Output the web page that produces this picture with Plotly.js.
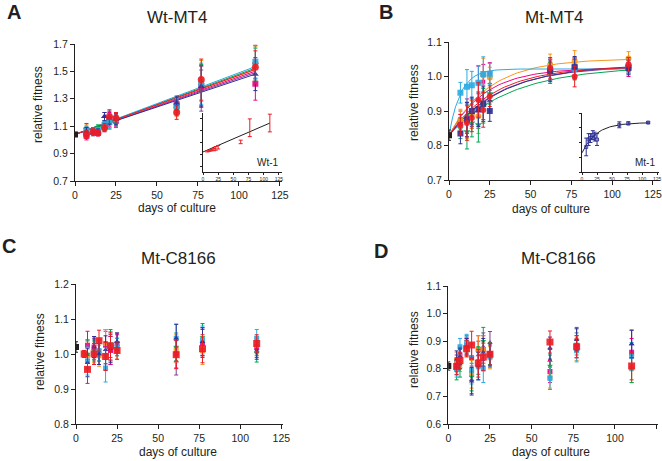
<!DOCTYPE html>
<html>
<head>
<meta charset="utf-8">
<script src="https://cdn.plot.ly/plotly-3.0.1.min.js"></script>
<style>
  body { margin: 0; background: #fff; }
  #chart { width: 662px; height: 461px; }
</style>
</head>
<body>
<div id="chart"></div>
<script>
// sampling days
const daysAB = [7, 11, 14, 18, 21, 25, 62, 77, 110];
const daysCD = [5, 7, 11, 14, 18, 21, 25, 61, 77, 110];

// series order: red, blue, cyan, green, orange, magenta, purple
const seriesColors = ['#ed1c24', '#2e3192', '#29abe2', '#00a651', '#f7941d', '#ec008c', '#7b3f98'];

// ---- A: Wt-MT4 ----
const aStart = 1.04;
const aRed     = [1.04, 1.06, 1.05, 1.09, 1.17, 1.16, 1.20, 1.44, 1.53];
const aBlue    = [1.06, 1.05, 1.06, 1.17, 1.16, 1.15, 1.27, 1.39, 1.48];
const aCyan    = [1.07, 1.06, 1.07, 1.11, 1.13, 1.15, 1.25, 1.41, 1.57];
const aGreen   = [1.05, 1.07, 1.09, 1.10, 1.13, 1.13, 1.23, 1.40, 1.55];
const aOrange  = [1.08, 1.06, 1.06, 1.10, 1.14, 1.16, 1.22, 1.43, 1.56];
const aMagenta = [1.03, 1.06, 1.05, 1.09, 1.15, 1.14, 1.26, 1.39, 1.41];
const aPurple  = [1.09, 1.07, 1.08, 1.17, 1.14, 1.15, 1.24, 1.36, 1.57];
const aErr     = [0.03, 0.02, 0.02, 0.03, 0.05, 0.04, 0.05, 0.15, 0.12];
const aSlopes  = [0.00432, 0.0040, 0.0045, 0.0044, 0.0043, 0.0042, 0.0041];

// inset Wt-1
const wt1Values = [1.05, 1.06, 1.07, 1.08, 1.10, 1.12, 1.21, 1.45, 1.53];
const wt1Err    = [0.01, 0.01, 0.01, 0.02, 0.03, 0.03, 0.03, 0.15, 0.15];
const wt1Slope  = 0.00445;

// ---- B: Mt-MT4 ----
const bStart = 0.83;
const bRed     = [0.860, 0.865, 0.880, 0.932, 0.903, 0.943, 1.025, 1.000, 1.035];
const bBlue    = [0.835, 0.875, 0.900, 0.905, 0.920, 0.900, 1.015, 1.028, 1.025];
const bCyan    = [0.953, 0.970, 0.975, 0.982, 1.007, 1.008, 1.020, 1.025, 1.028];
const bGreen   = [0.850, 0.840, 0.865, 0.860, 0.915, 0.950, 1.010, 1.020, 1.030];
const bOrange  = [0.875, 0.870, 0.890, 0.885, 1.003, 0.997, 1.035, 1.045, 1.052];
const bMagenta = [0.860, 0.885, 0.890, 0.980, 0.985, 1.010, 1.020, 1.022, 1.020];
const bPurple  = [0.870, 0.875, 0.895, 0.900, 0.925, 0.930, 1.020, 1.025, 1.030];
const bErr     = [0.03, 0.05, 0.04, 0.05, 0.05, 0.03, 0.03, 0.03, 0.02];
const bPlateau = [1.030, 1.035, 1.022, 1.030, 1.052, 1.025, 1.030];
const bRate    = [0.035, 0.030, 0.140, 0.026, 0.040, 0.045, 0.032];

// inset Mt-1
const mt1Values = [0.87, 0.92, 0.93, 0.95, 0.94, 0.92, 1.02, 1.03, 1.035];
const mt1Err    = [0.06, 0.04, 0.03, 0.03, 0.03, 0.04, 0.02, 0.01, 0.005];
const mt1Plateau = 1.035;
const mt1Rate    = 0.042;

// ---- C: Mt-C8166 ----
const cStart = 1.02;
const cRed     = [1.000, 0.956, 1.000, 1.038, 0.993, 1.023, 1.010, 0.998, 1.015, 1.030];
const cBlue    = [null, 0.975, 1.020, 1.000, 1.012, 1.015, 1.035, 1.045, 1.035, 1.010];
const cCyan    = [null, 0.980, 1.000, 1.010, 0.960, 1.020, 1.020, 1.045, 1.040, 1.045];
const cGreen   = [null, 1.000, 1.010, 1.010, 0.995, 1.030, 1.020, 1.020, 1.047, 1.002];
const cOrange  = [1.000, 0.995, 1.005, 0.995, 1.030, 1.020, 1.010, 1.015, 1.010, 1.025];
const cMagenta = [null, 1.025, 1.020, 1.000, 1.025, 1.010, 1.030, 1.000, 1.030, 1.020];
const cPurple  = [null, 1.000, 1.015, 1.000, 1.030, 1.010, 1.035, 0.980, 1.035, 1.015];
const cErr     = [0.01, 0.04, 0.03, 0.03, 0.04, 0.04, 0.025, 0.04, 0.04, 0.025];

// ---- D: Mt-C8166 ----
const dStart = 0.81;
const dRed     = [0.808, 0.830, 0.873, 0.886, 0.820, 0.843, 0.853, 0.897, 0.880, 0.810];
const dBlue    = [0.835, 0.845, 0.880, 0.755, 0.810, 0.860, 0.850, 0.875, 0.905, 0.890];
const dCyan    = [0.800, 0.880, 0.895, 0.795, 0.810, 0.800, 0.845, 0.765, 0.865, 0.845];
const dGreen   = [0.790, 0.800, 0.890, 0.770, 0.830, 0.900, 0.855, 0.810, 0.890, 0.800];
const dOrange  = [0.830, 0.820, 0.875, 0.780, 0.870, 0.870, 0.840, 0.770, 0.870, 0.800];
const dMagenta = [0.820, 0.850, 0.880, 0.840, 0.870, 0.870, 0.855, 0.790, 0.880, 0.860];
const dPurple  = [0.810, 0.840, 0.885, 0.760, 0.850, 0.880, 0.895, 0.830, 0.910, 0.890];
const dErr     = [0.03, 0.03, 0.03, 0.05, 0.05, 0.05, 0.04, 0.04, 0.04, 0.05];

const FONT = 'Liberation Sans, Arial, sans-serif';
const fitDays = Array.from({ length: 56 }, (_, i) => i * 2);

// marker symbols per panel, same series order
const symA = ['circle', 'triangle-up', 'square', 'triangle-down', 'circle', 'square', 'triangle-up'];
const symB = ['circle', 'square', 'square', 'triangle-down', 'circle', 'square', 'triangle-up'];
const symCD = ['square', 'triangle-up', 'square', 'triangle-down', 'square', 'square', 'triangle-up'];
const drawOrder = [6, 5, 4, 3, 2, 1, 0];

const traces = [];

const pointsTrace = (x, y, err, color, symbol, size, xa, ya) => ({
  x: x, y: y, xaxis: xa, yaxis: ya, type: 'scatter', mode: 'markers',
  marker: { color: color, symbol: symbol, size: size, opacity: 0.9 },
  error_y: { type: 'data', array: err, color: color, thickness: 1, width: 2 },
  hoverinfo: 'skip', showlegend: false
});
const lineTrace = (x, y, color, xa, ya) => ({
  x: x, y: y, xaxis: xa, yaxis: ya, type: 'scatter', mode: 'lines',
  line: { color: color, width: 1 }, hoverinfo: 'skip', showlegend: false
});
const startTrace = (v, xa, ya) => ({
  x: [0], y: [v], xaxis: xa, yaxis: ya, type: 'scatter', mode: 'markers',
  marker: { color: '#231f20', symbol: 'square', size: 6 },
  error_y: { type: 'data', array: [0.015], color: '#231f20', thickness: 1, width: 2 },
  hoverinfo: 'skip', showlegend: false
});

// A
const aValues = [aRed, aBlue, aCyan, aGreen, aOrange, aMagenta, aPurple];
drawOrder.forEach(i => traces.push(lineTrace([0, 110], [aStart, aStart + aSlopes[i] * 110], seriesColors[i], 'x', 'y')));
drawOrder.forEach(i => traces.push(pointsTrace(daysAB, aValues[i], aErr, seriesColors[i], symA[i], i === 0 ? 7 : 6, 'x', 'y')));
traces.push(startTrace(aStart, 'x', 'y'));

// B
const bValues = [bRed, bBlue, bCyan, bGreen, bOrange, bMagenta, bPurple];
drawOrder.forEach(i => traces.push(lineTrace(fitDays,
  fitDays.map(t => bPlateau[i] - (bPlateau[i] - bStart) * Math.exp(-bRate[i] * t)), seriesColors[i], 'x2', 'y2')));
drawOrder.forEach(i => traces.push(pointsTrace(daysAB, bValues[i], bErr, seriesColors[i], symB[i], i === 5 ? 4 : 6, 'x2', 'y2')));
traces.push(startTrace(bStart, 'x2', 'y2'));

// C
const cValues = [cRed, cBlue, cCyan, cGreen, cOrange, cMagenta, cPurple];
drawOrder.forEach(i => traces.push(pointsTrace(daysCD, cValues[i], cErr, seriesColors[i], symCD[i], i === 0 ? 7 : 5, 'x3', 'y3')));
traces.push(startTrace(cStart, 'x3', 'y3'));

// D
const dValues = [dRed, dBlue, dCyan, dGreen, dOrange, dMagenta, dPurple];
drawOrder.forEach(i => traces.push(pointsTrace(daysCD, dValues[i], dErr, seriesColors[i], symCD[i], i === 0 ? 7 : 5, 'x4', 'y4')));
traces.push(startTrace(dStart, 'x4', 'y4'));

// insets
traces.push(lineTrace([0, 110], [aStart, aStart + wt1Slope * 110], '#231f20', 'x5', 'y5'));
traces.push(pointsTrace(daysAB, wt1Values, wt1Err, seriesColors[0], 'line-ew', 3, 'x5', 'y5'));
traces.push(lineTrace(fitDays, fitDays.map(t => mt1Plateau - (mt1Plateau - bStart) * Math.exp(-mt1Rate * t)), '#231f20', 'x6', 'y6'));
traces.push(pointsTrace(daysAB, mt1Values, mt1Err, seriesColors[1], 'square-open', 3, 'x6', 'y6'));

// pixel -> paper helpers
const PX = p => p / 662;
const PY = p => 1 - p / 461;

const axis = (extra) => Object.assign({
  showline: true, linecolor: '#231f20', linewidth: 1, ticks: 'outside', ticklen: 4,
  tickcolor: '#231f20', tickwidth: 1, showgrid: false, zeroline: false,
  tickfont: { family: FONT, size: 10.5, color: '#231f20' }, fixedrange: true
}, extra);

const inset = { ticklen: 2, tickfont: { family: FONT, size: 5, color: '#231f20' } };

const layout = {
  width: 662, height: 461,
  margin: { l: 0, r: 0, t: 0, b: 0 },
  paper_bgcolor: '#fff', plot_bgcolor: 'rgba(0,0,0,0)',
  font: { family: FONT, color: '#231f20' },
  xaxis:  axis({ domain: [PX(75), PX(281.6)], range: [0, 126], tickvals: [0, 25, 50, 75, 100, 125], anchor: 'y' }),
  yaxis:  axis({ domain: [PY(181), PY(44)], range: [0.7, 1.7], tickvals: [0.7, 0.9, 1.1, 1.3, 1.5, 1.7], tickformat: '.1f', anchor: 'x' }),
  xaxis2: axis({ domain: [PX(449), PX(659.5)], range: [0, 129], tickvals: [0, 25, 50, 75, 100, 125], anchor: 'y2' }),
  yaxis2: axis({ domain: [PY(180), PY(42)], range: [0.7, 1.1], dtick: 0.1, tickformat: '.1f', anchor: 'x2' }),
  xaxis3: axis({ domain: [PX(76), PX(283)], range: [0, 126], tickvals: [0, 25, 50, 75, 100, 125], anchor: 'y3' }),
  yaxis3: axis({ domain: [PY(424), PY(284)], range: [0.8, 1.2], dtick: 0.1, tickformat: '.1f', anchor: 'x3' }),
  xaxis4: axis({ domain: [PX(448.3), PX(658.3)], range: [0, 126], tickvals: [0, 25, 50, 75, 100, 125], anchor: 'y4' }),
  yaxis4: axis({ domain: [PY(424), PY(286)], range: [0.6, 1.1], dtick: 0.1, tickformat: '.1f', anchor: 'x4' }),
  xaxis5: axis(Object.assign({ domain: [PX(203), PX(282)], range: [0, 130], tickvals: [0, 25, 50, 75, 100, 125], anchor: 'y5' }, inset)),
  yaxis5: axis(Object.assign({ domain: [PY(172), PY(113)], range: [0.7, 1.7], dtick: 0.2, showticklabels: false, anchor: 'x5' }, inset)),
  xaxis6: axis(Object.assign({ domain: [PX(582), PX(659)], range: [0, 128], tickvals: [0, 25, 50, 75, 100, 125], anchor: 'y6' }, inset)),
  yaxis6: axis(Object.assign({ domain: [PY(172), PY(113)], range: [0.7, 1.1], dtick: 0.1, showticklabels: false, anchor: 'x6' }, inset)),
  annotations: []
};

const note = (text, x, y, size, extra) => Object.assign({
  text: text, x: PX(x), y: PY(y), xref: 'paper', yref: 'paper', showarrow: false,
  xanchor: 'center', yanchor: 'middle', font: { family: FONT, size: size, color: '#231f20' }
}, extra);

layout.annotations.push(
  note('<b>A</b>', 14, 12, 20), note('<b>B</b>', 386, 12, 20),
  note('<b>C</b>', 9, 246, 20), note('<b>D</b>', 381, 251, 20),
  note('Wt-MT4', 177, 18, 17), note('Mt-MT4', 554, 18, 17),
  note('Mt-C8166', 178, 258, 17), note('Mt-C8166', 558, 258, 17),
  note('relative fitness', 38, 105, 12, { textangle: -90 }),
  note('relative fitness', 414, 103, 12, { textangle: -90 }),
  note('relative fitness', 40, 352, 12, { textangle: -90 }),
  note('relative fitness', 414, 350, 12, { textangle: -90 }),
  note('days of culture', 177, 208, 12), note('days of culture', 551, 209, 12),
  note('days of culture', 178, 452, 12), note('days of culture', 551, 452, 12),
  note('Wt-1', 268, 162, 10), note('Mt-1', 645, 162, 10)
);

Plotly.newPlot('chart', traces, layout, { staticPlot: true, displayModeBar: false });
</script>
</body>
</html>
